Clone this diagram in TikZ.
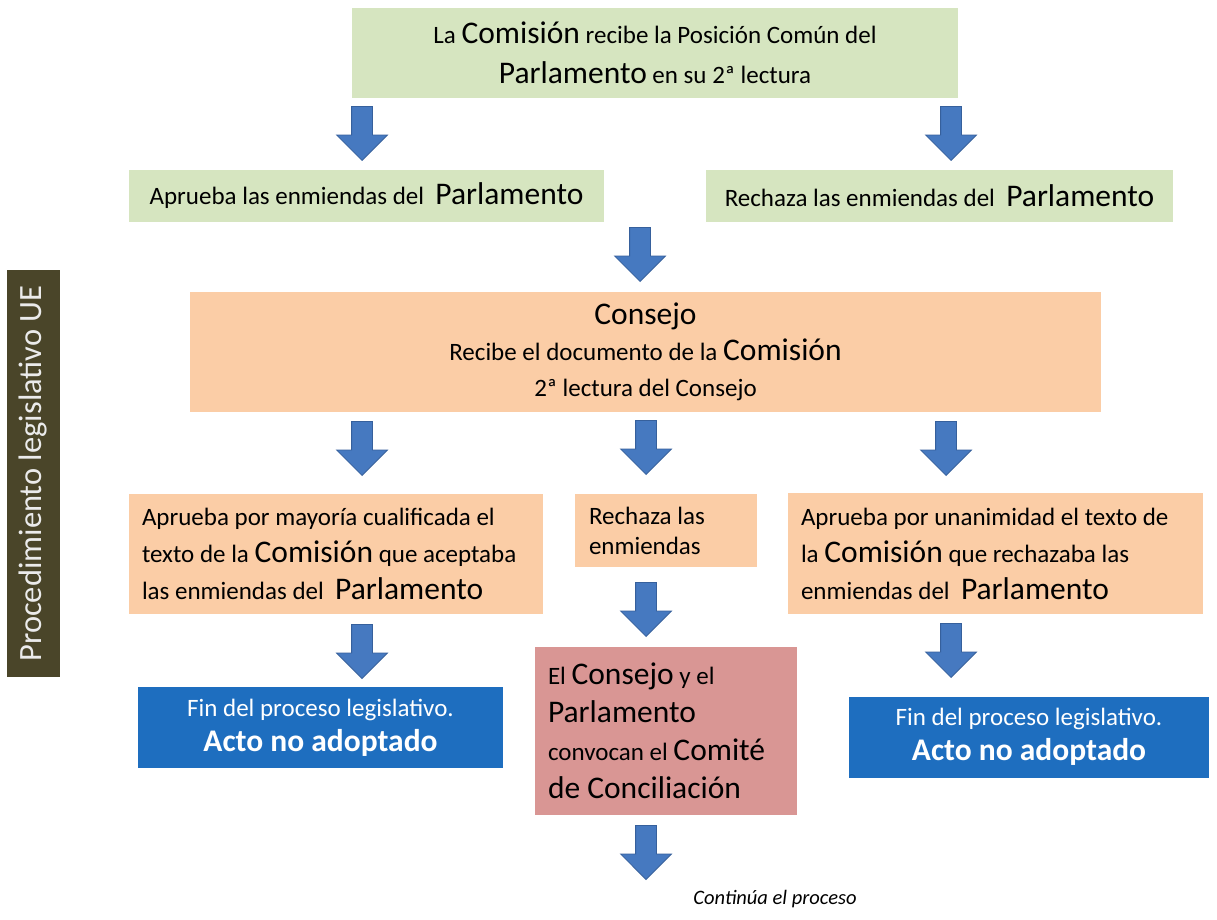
\documentclass[tikz,border=0pt]{standalone}
\usepackage{fontspec}
\setmainfont{Carlito}
\usepackage{tikz}
\usetikzlibrary{shapes.arrows, positioning}
\definecolor{verde}{HTML}{D6E5C0}
\definecolor{naranja}{HTML}{FBCDA6}
\definecolor{rosa}{HTML}{D99694}
\definecolor{azul}{HTML}{1E6EBF}
\definecolor{oliva}{HTML}{4A4529}
\definecolor{flechaazul}{HTML}{4679C0}
\definecolor{flechaborde}{HTML}{36609C}
\newcommand{\letra}[1]{\fontsize{25}{#1}\selectfont}
\newcommand{\grande}[1]{{\fontsize{31.5}{37}\selectfont #1}}
\tikzset{
	caja/.style={inner sep=0pt, text=black},
	cajaverde/.style={caja, fill=verde, align=flush center},
	cajanaranja/.style={caja, fill=naranja},
	cajaazul/.style={caja, fill=azul, text=white, align=flush center},
	etiqueta/.style={rotate=90, fill=oliva, text=white!92!black, inner sep=0pt, font=\fontsize{32.5}{37}\selectfont},
	flecha/.style={single arrow, shape border rotate=270, anchor=tip, fill=flechaazul, draw=flechaborde, line width=0.8pt,
		minimum height=54pt, minimum width=50pt, single arrow head extend=15pt, inner sep=10pt}
}

\begin{document}
\begin{tikzpicture}[x=1pt, y=-1pt]
\useasboundingbox[fill=white] (0,0) rectangle (1217,920);

% rótulo lateral
\node[etiqueta, minimum width=407pt, minimum height=53pt] (proc) at (33.5,473.5) {Procedimiento legislativo UE};

% Comisión
\node[cajaverde, minimum width=606pt, minimum height=90pt, text width=590pt, font=\letra{40}] (comision) at (655,53)
	{La \grande{Comisión} recibe la Posición Común del\\ \grande{Parlamento} en su 2ª lectura};
\node[flecha] (f1) at (362,161) {};
\node[flecha] (f2) at (951,161) {};
\node[cajaverde, minimum width=475pt, minimum height=52pt, text width=460pt, font=\letra{37}] (aprueba) at (366.5,196)
	{Aprueba las enmiendas del~ \grande{Parlamento}};
\node[cajaverde, minimum width=467pt, minimum height=52pt, text width=450pt, font=\letra{37}] (rechaza) at (939.5,196)
	{Rechaza las enmiendas del~ \grande{Parlamento}};
\node[flecha] (f3) at (640,282) {};

% Consejo
\node[cajanaranja, align=flush center, minimum width=911pt, minimum height=120pt, text width=890pt, font=\letra{36}] (consejo) at (645.5,352)
	{\grande{Consejo}\\ Recibe el documento de la \grande{Comisión}\\ 2ª lectura del Consejo};
\node[flecha] (f4) at (362,476) {};
\node[flecha] (f5) at (646,475) {};
\node[flecha] (f6) at (946,476) {};

\node[cajanaranja, align=flush left, minimum width=414pt, minimum height=120pt, text width=388pt, font=\letra{37}] (mayoria) at (336,554)
	{Aprueba por mayoría cualificada el\\ texto de la \grande{Comisión} que aceptaba\\ las enmiendas del~ \grande{Parlamento}};
\node[cajanaranja, align=flush left, minimum width=182pt, minimum height=73pt, text width=154pt, font=\letra{30}] (rechenm) at (666,530.5)
	{Rechaza las\\ enmiendas};
\node[cajanaranja, align=flush left, minimum width=415pt, minimum height=121pt, text width=389pt, font=\letra{37}] (unanim) at (995.5,553.5)
	{Aprueba por unanimidad el texto de\\ la \grande{Comisión} que rechazaba las\\ enmiendas del~ \grande{Parlamento}};

\node[flecha] (f7) at (362,679) {};
\node[flecha] (f8) at (646,637) {};
\node[flecha] (f9) at (951,678) {};

% finales
\node[cajaazul, minimum width=365pt, minimum height=81pt, text width=350pt, font=\letra{35}] (finizq) at (320.5,727.5)
	{Fin del proceso legislativo.\\ \grande{\bfseries Acto no adoptado}};
\node[cajaazul, minimum width=360pt, minimum height=81pt, text width=345pt, font=\letra{35}] (finder) at (1029,737)
	{Fin del proceso legislativo.\\ \grande{\bfseries Acto no adoptado}};
\node[caja, fill=rosa, align=flush left, minimum width=262pt, minimum height=168pt, text width=236pt, font=\letra{38}] (comite) at (666,731)
	{El \grande{Consejo} y el\\ \grande{Parlamento}\\ convocan el \grande{Comité}\\ \grande{de Conciliación}};

\node[flecha] (f10) at (646,880) {};
\node[font=\fontsize{20.5}{24}\selectfont\itshape, inner sep=0pt] (sigue) at (775,899) {Continúa el proceso};
\end{tikzpicture}
\end{document}
